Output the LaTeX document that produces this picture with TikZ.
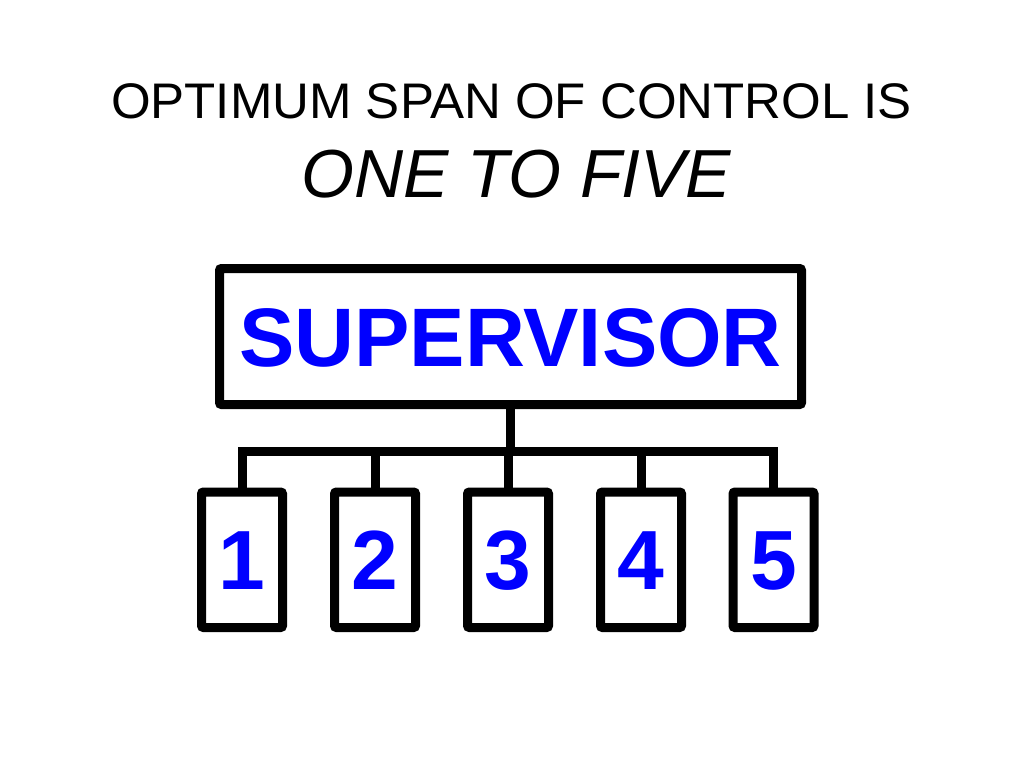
\documentclass[tikz,border=0pt]{standalone}
\usepackage{fontspec}
\setmainfont{Liberation Sans}
\definecolor{supblue}{RGB}{0,0,255}
\begin{document}
\begin{tikzpicture}[x=1pt,y=-1pt,
  boxed/.style={draw=black, line width=9pt, rounded corners=2pt, fill=white,
    inner sep=0pt, text=supblue, font=\bfseries\fontsize{84}{84}\selectfont,
    text height=60pt, text depth=0pt, align=center},
  supbox/.style={boxed, font=\bfseries\fontsize{83}{83}\selectfont,
    minimum width=582pt, minimum height=136pt},
  worker/.style={boxed, minimum width=81pt, minimum height=135.5pt},
  conn/.style={line width=9pt, line join=miter, draw=black},
  titleA/.style={anchor=base, inner sep=0pt, font=\fontsize{50}{50}\selectfont, xscale=1.02},
  titleB/.style={anchor=base, inner sep=0pt, font=\itshape\fontsize{68}{68}\selectfont}]
\useasboundingbox (0,0) rectangle (1024,768);
\fill[white] (0,0) rectangle (1024,768);

\node[titleA] (t1) at (511.5,118) {OPTIMUM SPAN OF CONTROL IS};
\node[titleB] (t2) at (516.5,197) {ONE TO FIVE};

\node[supbox] (sup) at (510.5,336.5) {SUPERVISOR};

\node[worker] (b1) at (242,559.75) {1};
\node[worker] (b2) at (375,559.75) {2};
\node[worker] (b3) at (508,559.75) {3};
\node[worker] (b4) at (641,559.75) {4};
\node[worker] (b5) at (773.5,559.75) {5};

\coordinate (bus) at (510.5,451.5);
\draw[conn] (sup.south) -- (bus);
\draw[conn] (bus) -| (b1.north);
\draw[conn] (bus) -| (b2.north);
\draw[conn] (bus) -| (b3.north);
\draw[conn] (bus) -| (b4.north);
\draw[conn] (bus) -| (b5.north);
\end{tikzpicture}
\end{document}
